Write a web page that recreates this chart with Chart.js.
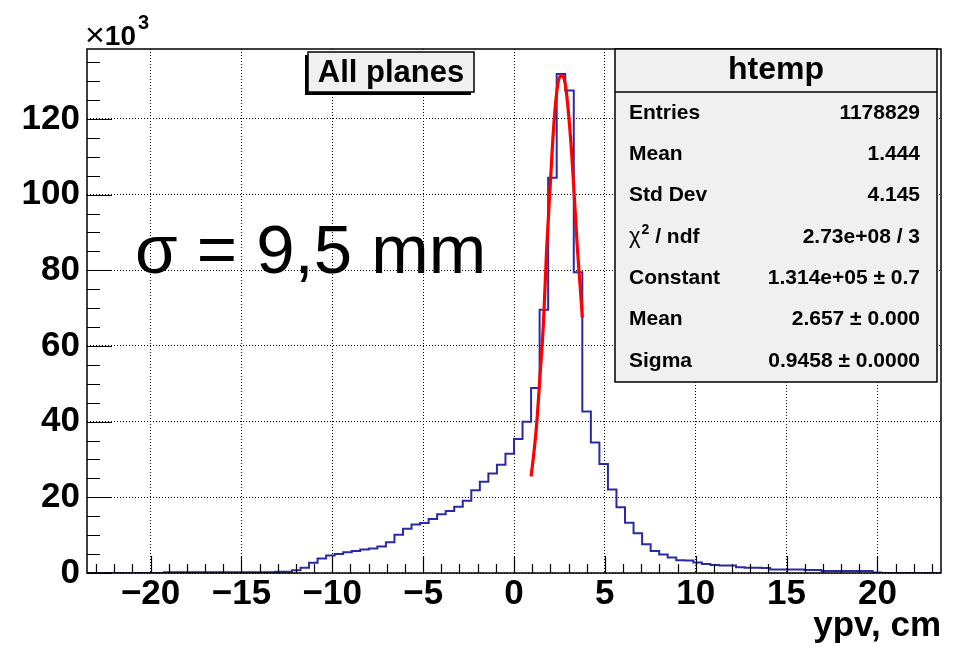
<!DOCTYPE html>
<html><head><meta charset="utf-8">
<script src="https://cdn.jsdelivr.net/npm/chart.js@4/dist/chart.umd.min.js"></script>
<style>html,body{margin:0;padding:0;background:#fff}canvas{display:block}</style>
</head><body>
<canvas id="c" width="958" height="648"></canvas>
<script>
// ---- data (counts in units of 10^3) ----
const histMin = -23.5;
const binWidth = 0.47;
const counts = [
  0,0,0,0,0,0,0,0,0,
  0.2,0.2,0.2,0.2,0.2,0.2,0.2,0.2,0.2,0.2,0.2,0.2,0.2,0.3,0.3,
  0.7,1.4,2.7,3.8,4.6,5.0,5.5,5.8,6.2,6.5,7.0,8.1,10.1,11.7,12.8,13.2,
  14.3,15.5,16.4,17.5,19.1,21.9,24.1,26.3,28.6,31.5,35.4,40.0,
  48.9,69.6,104.5,131.9,127.5,79.5,42.7,34.5,28.8,22.1,17.4,13.3,10.5,
  7.6,5.8,4.9,4.1,3.4,3.3,2.8,2.4,2.1,2.0,2.0,1.5,1.4,1.4,1.3,
  0.9,0.9,0.9,0.9,0.8,0.8,0.5,0.5,0.5,0.5,0.5,0.5,0.1,
  0,0,0,0,0,0,0
];
const fitX = [0.94,1.10,1.25,1.43,1.62,1.80,1.99,2.17,2.35,2.50,2.66,2.83,3.01,3.20,3.35,3.50,3.66,3.76];
const fitY = [25.5,32,39.5,52,66,86,102,117,127,131,131.4,129,121,109,97,85,74.5,67.5];
const xTicks = [-20,-15,-10,-5,0,5,10,15,20];
const yTicks = [0,20,40,60,80,100,120];
const xRange = [-23.5, 23.5];
const yRange = [0, 138.5];
const xMinorStep = 1;
const yMinorStep = 5;
const titleText = "All planes";
const statsTitle = "htemp";
const statsLabels = ["Entries","Mean","Std Dev","\u03C7\u00B2 / ndf","Constant","Mean","Sigma"];
const statsValues = ["1178829","1.444","4.145","2.73e+08 / 3","1.314e+05 \u00B1 0.7","2.657 \u00B1 0.000","0.9458 \u00B1 0.0000"];
const noteText = "\u03C3 = 9,5 mm";
const xTitle = "ypv, cm";

const FONT = '"Liberation Sans", Arial, Helvetica, sans-serif';

const histData = counts.map((c, i) => ({x: histMin + i * binWidth, y: c}));
histData.push({x: histMin + counts.length * binWidth, y: counts[counts.length - 1]});
const fitData = fitX.map((x, i) => ({x: x, y: fitY[i]}));

const decor = {
  id: 'decor',
  afterDraw(chart) {
    const ctx = chart.ctx;
    const a = chart.chartArea;
    const xs = chart.scales.x, ys = chart.scales.y;
    ctx.save();
    // frame
    ctx.strokeStyle = '#000';
    ctx.lineWidth = 1.5;
    ctx.strokeRect(a.left, a.top, a.right - a.left, a.bottom - a.top);
    // x ticks (inside)
    ctx.lineWidth = 1.2;
    ctx.beginPath();
    for (let v = Math.ceil(xRange[0]); v <= xRange[1]; v += xMinorStep) {
      const px = Math.round(xs.getPixelForValue(v)) + 0.5;
      const len = xTicks.includes(v) ? 17 : 9;
      ctx.moveTo(px, a.bottom);
      ctx.lineTo(px, a.bottom - len);
    }
    // y ticks
    for (let v = yRange[0]; v <= yRange[1]; v += yMinorStep) {
      const py = Math.round(ys.getPixelForValue(v)) + 0.5;
      const len = yTicks.includes(v) ? 25 : 13;
      ctx.moveTo(a.left, py);
      ctx.lineTo(a.left + len, py);
    }
    ctx.stroke();

    // x10^3
    ctx.fillStyle = '#000';
    ctx.textBaseline = 'alphabetic';
    ctx.textAlign = 'left';
    ctx.font = '34px ' + FONT;
    ctx.fillText('\u00D7', 85, 46);
    let w = ctx.measureText('\u00D7').width;
    ctx.font = 'bold 28px ' + FONT;
    ctx.fillText('10', 85 + w, 45);
    w += ctx.measureText('10').width;
    ctx.font = 'bold 20px ' + FONT;
    ctx.fillText('3', 87 + w, 29);

    // x axis title
    ctx.font = 'bold 35px ' + FONT;
    ctx.textAlign = 'right';
    ctx.fillText(xTitle, a.right, 636);

    // title box with shadow
    ctx.fillStyle = '#000';
    ctx.fillRect(305, 55, 166, 40);
    ctx.fillStyle = '#f0f0f0';
    ctx.fillRect(308, 52, 166, 40);
    ctx.strokeStyle = '#000';
    ctx.lineWidth = 1.5;
    ctx.strokeRect(308, 52, 166, 40);
    ctx.fillStyle = '#000';
    ctx.font = 'bold 31px ' + FONT;
    ctx.textAlign = 'center';
    ctx.textBaseline = 'middle';
    ctx.fillText(titleText, 391, 73);

    // stats box
    const bx = 615, by = a.top, bw = 322, bh = 333;
    ctx.fillStyle = '#f0f0f0';
    ctx.fillRect(bx, by, bw, bh);
    ctx.strokeStyle = '#000';
    ctx.lineWidth = 1.5;
    ctx.strokeRect(bx, by, bw, bh);
    ctx.beginPath();
    ctx.moveTo(bx, 92); ctx.lineTo(bx + bw, 92);
    ctx.stroke();
    ctx.fillStyle = '#000';
    ctx.font = 'bold 32px ' + FONT;
    ctx.textAlign = 'center';
    ctx.fillText(statsTitle, bx + bw / 2, 70);
    ctx.font = 'bold 21px ' + FONT;
    for (let i = 0; i < statsLabels.length; i++) {
      const y = 113 + i * 41.3;
      ctx.textAlign = 'left';
      const lab = statsLabels[i];
      if (lab.startsWith('\u03C7')) {
        ctx.font = '22px ' + FONT;
        ctx.fillText('\u03C7', 629, y);
        let cw = ctx.measureText('\u03C7').width;
        ctx.font = 'bold 14px ' + FONT;
        ctx.fillText('2', 629 + cw + 1, y - 7);
        cw += ctx.measureText('2').width + 1;
        ctx.font = 'bold 21px ' + FONT;
        ctx.fillText(' / ndf', 629 + cw, y);
      } else {
        ctx.fillText(lab, 629, y);
      }
      ctx.textAlign = 'right';
      ctx.fillText(statsValues[i], 920, y);
    }

    // sigma annotation
    ctx.font = '69px ' + FONT;
    ctx.textAlign = 'left';
    ctx.textBaseline = 'alphabetic';
    ctx.fillText(noteText, 135, 273);
    ctx.restore();
  }
};

new Chart(document.getElementById('c'), {
  type: 'line',
  data: {
    datasets: [
      {label: 'fit', data: fitData, borderColor: '#ff0000', borderWidth: 3.2,
       pointRadius: 0, cubicInterpolationMode: 'monotone', fill: false},
      {label: 'htemp', data: histData, borderColor: '#2a2aa8', borderWidth: 2,
       pointRadius: 0, stepped: 'before', fill: false}
    ]
  },
  options: {
    responsive: false,
    animation: false,
    devicePixelRatio: 1,
    layout: {padding: {top: 49, right: 17, left: 0, bottom: 0}},
    plugins: {legend: {display: false}, tooltip: {enabled: false}},
    scales: {
      x: {
        type: 'linear', min: xRange[0], max: xRange[1],
        afterBuildTicks: s => { s.ticks = xTicks.map(v => ({value: v})); },
        afterFit: s => { s.height = 75; },
        ticks: {
          color: '#000', font: {family: FONT, size: 35, weight: 'bold'}, padding: 0,
          maxRotation: 0, autoSkip: false,
          callback: v => (v < 0 ? '\u2212' + Math.abs(v) : String(v))
        },
        grid: {color: '#000', lineWidth: 1, drawTicks: false},
        border: {display: false, dash: [1, 2]}
      },
      y: {
        type: 'linear', min: yRange[0], max: yRange[1],
        afterBuildTicks: s => { s.ticks = yTicks.map(v => ({value: v})); },
        afterFit: s => { s.width = 87; },
        ticks: {color: '#000', font: {family: FONT, size: 35, weight: 'bold'}, padding: 7, autoSkip: false},
        grid: {color: '#000', lineWidth: 1, drawTicks: false},
        border: {display: false, dash: [1, 2]}
      }
    }
  },
  plugins: [decor]
});
</script>
</body></html>
